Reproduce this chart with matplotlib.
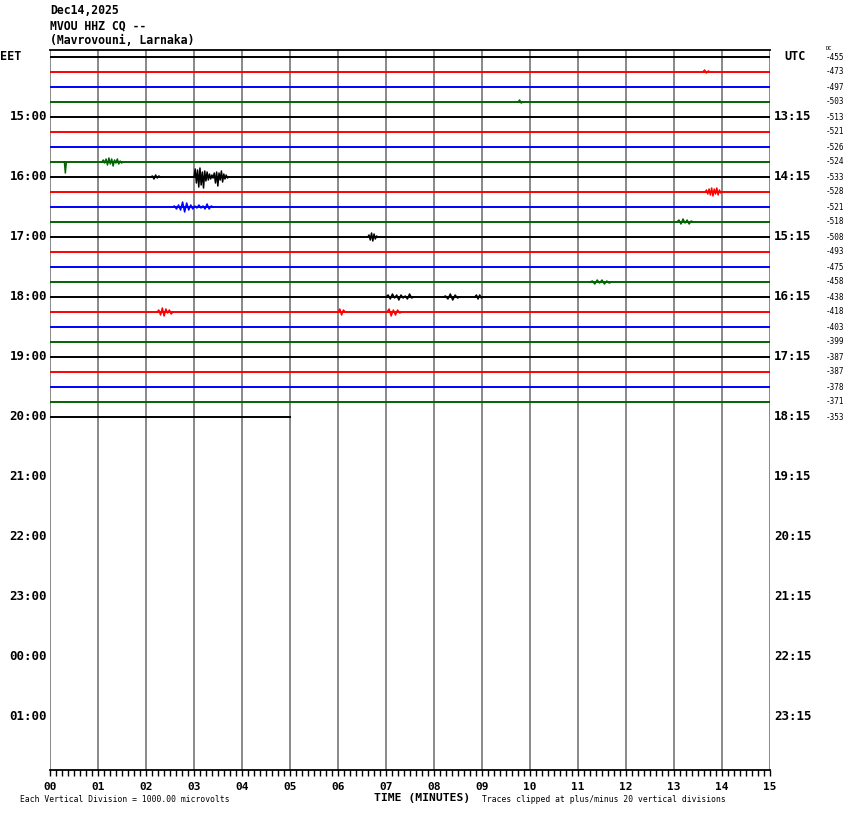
import matplotlib.pyplot as plt
import numpy as np

W, H = 850, 814

# header
title_lines = ['Dec14,2025', 'MVOU HHZ CQ --', '(Mavrovouni, Larnaka)']

# one trace per 15 minutes, 48 slots on the page
n_slots = 48
trace_colors = ['black', 'red', 'blue', '#006400']
trace_len_min = [15] * 24 + [5]
dc_offsets = [-455, -473, -497, -503, -513, -521, -526, -524, -533, -528, -521, -518,
              -508, -493, -475, -458, -438, -418, -403, -399, -387, -387, -378, -371, -353]

eet_labels = ['15:00', '16:00', '17:00', '18:00', '19:00', '20:00',
              '21:00', '22:00', '23:00', '00:00', '01:00']
utc_labels = ['13:15', '14:15', '15:15', '16:15', '17:15', '18:15',
              '19:15', '20:15', '21:15', '22:15', '23:15']
minute_labels = ['%02d' % m for m in range(16)]

# visible wiggles on the traces (deflection in screen px, up = positive)
event_rows = [7, 7, 8, 8, 9, 10, 11, 12, 15, 16, 16, 16, 17, 17, 17, 3, 1]
event_start = [0.30, 1.08, 2.10, 3.00, 13.65, 2.55, 13.06, 6.62, 11.25, 7.00, 8.19, 8.85,
               2.23, 6.00, 7.02, 9.75, 13.60]
event_end = [0.34, 1.52, 2.30, 3.72, 14.00, 3.40, 13.40, 6.83, 11.70, 7.58, 8.54, 9.02,
             2.56, 6.15, 7.33, 9.85, 13.75]
event_wiggles = [
    [0, -11, 0],
    [0, 2, -1, 3, -3, 4, -2, 3, -4, 2, -1, 3, -2, 1, -1, 0],
    [0, 1, -2, 2, -1, 1, 0],
    [0, 8, -6, 7, -10, 9, -8, 5, -11, 6, -4, 5, -3, 3, -2, 2, -1, 4, -6, 5, -9, 4, -3, 6, -5, 3, -2, 2, -1, 0],
    [0, 2, -2, 3, -3, 4, -4, 3, -2, 4, -3, 2, -1, 0],
    [0, 1, -2, 2, -3, 5, -5, 4, -3, 2, -2, 1, -1, 2, -1, 1, -2, 3, -2, 1, 0],
    [0, 2, -2, 3, -1, 2, -2, 1, 0],
    [0, 2, -3, 4, -4, 3, -2, 1, 0],
    [0, 1, -2, 2, -1, 2, -2, 1, -1, 0],
    [0, 2, -2, 3, -1, 2, -3, 2, -1, 1, -2, 3, -1, 0],
    [0, 1, -2, 3, -3, 2, -1, 0],
    [0, 2, -2, 2, -1, 0],
    [0, 2, -3, 4, -4, 3, -1, 2, -2, 0],
    [0, 3, -3, 2, 0],
    [0, 3, -4, 2, -3, 2, -1, 0],
    [0, 2, -1, 0],
    [0, 2, -1, 1, 0],
]

mono = 'DejaVu Sans Mono'
row_px = 15.0
top_pad = 7.0 / row_px

fig = plt.figure(figsize=(W / 100, H / 100), dpi=100)
ax = fig.add_axes([50 / W, (H - 770) / H, 720 / W, 720 / H])
ax.set_xlim(0, 15)
ax.set_ylim(n_slots - top_pad, -top_pad)

for s in ['left', 'right']:
    ax.spines[s].set_visible(False)
ax.spines['top'].set_color('black')
ax.spines['bottom'].set_color('black')
ax.spines['top'].set_linewidth(1.3)
ax.spines['bottom'].set_linewidth(1.3)

for m in range(16):
    ax.axvline(m, color='#808080', lw=1.3, zorder=1)

for i, ln in enumerate(trace_len_min):
    ax.plot([0, ln], [i, i], color=trace_colors[i % 4], lw=1.4, zorder=2)

for r, a, b, w in zip(event_rows, event_start, event_end, event_wiggles):
    xs = np.linspace(a, b, len(w))
    ys = r - np.array(w) / row_px
    ax.plot(xs, ys, color=trace_colors[r % 4], lw=1.1, zorder=3)

ax.set_yticks([])
ax.set_xticks(range(16))
ax.set_xticklabels(minute_labels, fontfamily=mono, fontweight='bold', fontsize=8)
ax.set_xticks(np.arange(0, 15.01, 1 / 8), minor=True)
ax.tick_params(axis='x', which='both', direction='out', length=4.5, width=1, pad=4)

# hour labels
for k, (el, ul) in enumerate(zip(eet_labels, utc_labels)):
    row = 4 * (k + 1)
    ax.text(-3 / 48, row, el, ha='right', va='center', fontfamily=mono,
            fontweight='bold', fontsize=9)
    ax.text(15 + 4 / 48, row, ul, ha='left', va='center', fontfamily=mono,
            fontweight='bold', fontsize=9)
ax.text(-50 / 48, 0, 'EET', ha='left', va='center', fontfamily=mono,
        fontweight='bold', fontsize=8.5)
ax.text(15 + 14 / 48, 0, 'UTC', ha='left', va='center', fontfamily=mono,
        fontweight='bold', fontsize=8.5)

for i, dc in enumerate(dc_offsets):
    ax.text(15 + 56 / 48, i, str(dc), ha='left', va='center', fontfamily=mono,
            fontsize=5.5)
ax.text(15 + 56 / 48, -9 / row_px, 'DC', ha='left', va='center', fontfamily=mono,
        fontsize=4)

for j, t in enumerate(title_lines):
    fig.text(50 / W, 1 - (11 + 15 * j) / H, t, ha='left', va='center',
             fontfamily=mono, fontweight='bold', fontsize=8.3)

fig.text(20 / W, 1 - 800 / H, 'Each Vertical Division = 1000.00 microvolts',
         ha='left', va='center', fontfamily=mono, fontsize=5.8)
fig.text(374 / W, 1 - 798 / H, 'TIME (MINUTES)', ha='left', va='center',
         fontfamily=mono, fontweight='bold', fontsize=8.2)
fig.text(482 / W, 1 - 800 / H, 'Traces clipped at plus/minus 20 vertical divisions',
         ha='left', va='center', fontfamily=mono, fontsize=5.8)

fig.savefig('out.png', dpi=100)
